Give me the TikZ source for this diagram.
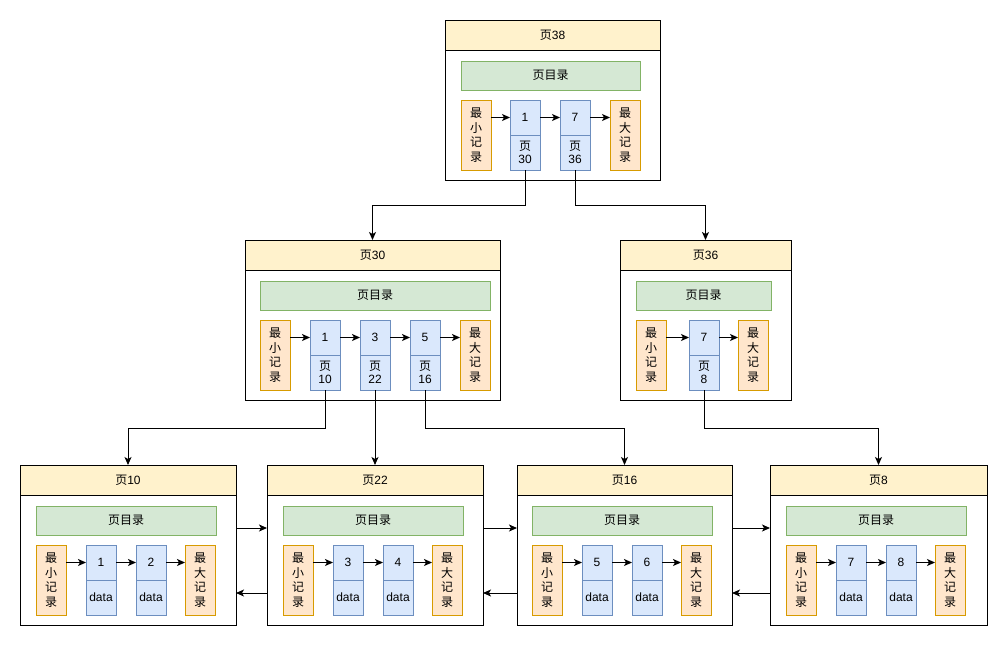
\documentclass[tikz,border=0pt]{standalone}
\usepackage{fontspec}
\setmainfont{Liberation Sans}
\newfontfamily\cjk{Noto Sans CJK SC}
\usetikzlibrary{arrows.meta,calc}
\definecolor{hdrfill}{HTML}{FFF2CC}
\definecolor{grnfill}{HTML}{D5E8D4}
\definecolor{grndraw}{HTML}{82B366}
\definecolor{orgfill}{HTML}{FFE6CC}
\definecolor{orgdraw}{HTML}{D79B00}
\definecolor{blufill}{HTML}{DAE8FC}
\definecolor{bludraw}{HTML}{6C8EBF}
\newcommand\Y{{\cjk 页}}
\newcommand\minrec[3]{\node[orgbox] (#1) at (#2,#3) {最\\小\\记\\录};}
\newcommand\maxrec[3]{\node[orgbox] (#1) at (#2,#3) {最\\大\\记\\录};}
\newcommand\recpair[5]{\node[blubox] (#1) at (#2,#3) {#4};
  \node[blubox] (#1b) at (#2,#3+35) {#5};}
\newcommand\idxtxt[1]{{\cjk 页}\\#1}
\begin{document}
\begin{tikzpicture}[x=1pt,y=-1pt,
  every node/.style={font=\fontsize{12}{14.5}\selectfont, inner sep=0pt, outer sep=0pt},
  hdr/.style={draw=black, line width=1pt, fill=hdrfill, anchor=north west, minimum height=30pt},
  bodybox/.style={draw=black, line width=1pt, fill=white, anchor=north west, minimum height=130pt},
  grnbox/.style={draw=grndraw, line width=1pt, fill=grnfill, anchor=north west, minimum height=29pt},
  orgbox/.style={draw=orgdraw, line width=1pt, fill=orgfill, anchor=north west, minimum width=30pt, minimum height=70pt, align=center, font=\fontsize{12}{14.5}\selectfont\cjk},
  blubox/.style={draw=bludraw, line width=1pt, fill=blufill, anchor=north west, minimum width=30pt, minimum height=35pt, align=center, font=\fontsize{12}{13}\selectfont},
  arr/.style={draw=black, line width=1pt, -{Stealth[length=8pt,width=7pt,inset=2pt]}},
  conn/.style={draw=black, line width=1pt, -{Stealth[length=8pt,width=7pt,inset=2pt]}}
]
\useasboundingbox (0,0) rectangle (1007,646);

% ---------- Page 38 ----------
\node[hdr, minimum width=215pt] (p38h) at (445,20) {\Y 38};
\node[bodybox, minimum width=215pt] (p38) at (445,50) {};
\node[grnbox, minimum width=179pt] (g38) at (461,61) {\cjk 页目录};
\minrec{a0}{461}{100}
\recpair{a1}{510}{100}{1}{\idxtxt{30}}
\recpair{a7}{560}{100}{7}{\idxtxt{36}}
\maxrec{a9}{610}{100}
\draw[arr] (a0.east |- a1.west) -- (a1.west);
\draw[arr] (a1.east) -- (a7.west);
\draw[arr] (a7.east) -- (a9.west |- a7.east);

% ---------- Page 30 ----------
\node[hdr, minimum width=255pt] (p30h) at (245,240) {\Y 30};
\node[bodybox, minimum width=255pt] (p30) at (245,270) {};
\node[grnbox, minimum width=230pt] (g30) at (260,281) {\cjk 页目录};
\minrec{b0}{260}{320}
\recpair{b1}{310}{320}{1}{\idxtxt{10}}
\recpair{b3}{360}{320}{3}{\idxtxt{22}}
\recpair{b5}{410}{320}{5}{\idxtxt{16}}
\maxrec{b9}{460}{320}
\draw[arr] (b0.east |- b1.west) -- (b1.west);
\draw[arr] (b1.east) -- (b3.west);
\draw[arr] (b3.east) -- (b5.west);
\draw[arr] (b5.east) -- (b9.west |- b5.east);

% ---------- Page 36 ----------
\node[hdr, minimum width=171pt] (p36h) at (620,240) {\Y 36};
\node[bodybox, minimum width=171pt] (p36) at (620,270) {};
\node[grnbox, minimum width=135pt] (g36) at (636,281) {\cjk 页目录};
\minrec{c0}{636}{320}
\recpair{c7}{689}{320}{7}{\idxtxt{8}}
\maxrec{c9}{738}{320}
\draw[arr] (c0.east |- c7.west) -- (c7.west);
\draw[arr] (c7.east) -- (c9.west |- c7.east);

% ---------- Page 10 ----------
\node[hdr, minimum width=216pt] (p10h) at (20,465) {\Y 10};
\node[bodybox, minimum width=216pt] (p10) at (20,495) {};
\node[grnbox, minimum width=180pt] (g10) at (36,506) {\cjk 页目录};
\minrec{d0}{36}{545}
\recpair{d1}{86}{545}{1}{data}
\recpair{d2}{136}{545}{2}{data}
\maxrec{d9}{185}{545}
\draw[arr] (d0.east |- d1.west) -- (d1.west);
\draw[arr] (d1.east) -- (d2.west);
\draw[arr] (d2.east) -- (d9.west |- d2.east);

% ---------- Page 22 ----------
\node[hdr, minimum width=216pt] (p22h) at (267,465) {\Y 22};
\node[bodybox, minimum width=216pt] (p22) at (267,495) {};
\node[grnbox, minimum width=180pt] (g22) at (283,506) {\cjk 页目录};
\minrec{e0}{283}{545}
\recpair{e3}{333}{545}{3}{data}
\recpair{e4}{383}{545}{4}{data}
\maxrec{e9}{432}{545}
\draw[arr] (e0.east |- e3.west) -- (e3.west);
\draw[arr] (e3.east) -- (e4.west);
\draw[arr] (e4.east) -- (e9.west |- e4.east);

% ---------- Page 16 ----------
\node[hdr, minimum width=215pt] (p16h) at (517,465) {\Y 16};
\node[bodybox, minimum width=215pt] (p16) at (517,495) {};
\node[grnbox, minimum width=180pt] (g16) at (532,506) {\cjk 页目录};
\minrec{f0}{532}{545}
\recpair{f5}{582}{545}{5}{data}
\recpair{f6}{632}{545}{6}{data}
\maxrec{f9}{681}{545}
\draw[arr] (f0.east |- f5.west) -- (f5.west);
\draw[arr] (f5.east) -- (f6.west);
\draw[arr] (f6.east) -- (f9.west |- f6.east);

% ---------- Page 8 ----------
\node[hdr, minimum width=217pt] (p8h) at (770,465) {\Y 8};
\node[bodybox, minimum width=217pt] (p8) at (770,495) {};
\node[grnbox, minimum width=180pt] (g8) at (786,506) {\cjk 页目录};
\minrec{h0}{786}{545}
\recpair{h7}{836}{545}{7}{data}
\recpair{h8}{886}{545}{8}{data}
\maxrec{h9}{935}{545}
\draw[arr] (h0.east |- h7.west) -- (h7.west);
\draw[arr] (h7.east) -- (h8.west);
\draw[arr] (h8.east) -- (h9.west |- h8.east);

% ---------- tree connectors ----------
\draw[conn] (a1b.south) -- ++(0,35) -| (p30h.north);
\draw[conn] (a7b.south) -- ++(0,35) -| (p36h.north);
\draw[conn] (b1b.south) -- ++(0,38) -| (p10h.north);
\draw[conn] (b3b.south) -- (b3b.south |- p22h.north);
\draw[conn] (b5b.south) -- ++(0,38) -| (p16h.north);
\draw[conn] (c7b.south) -- ++(0,38) -| (p8h.north);

% ---------- leaf sibling links ----------
\draw[arr] ([yshift=32pt]p10.east) -- ([yshift=32pt]p22.west);
\draw[arr] ([yshift=32pt]p22.east) -- ([yshift=32pt]p16.west);
\draw[arr] ([yshift=32pt]p16.east) -- ([yshift=32pt]p8.west);
\draw[arr] ([yshift=-33pt]p22.west) -- ([yshift=-33pt]p10.east);
\draw[arr] ([yshift=-33pt]p16.west) -- ([yshift=-33pt]p22.east);
\draw[arr] ([yshift=-33pt]p8.west) -- ([yshift=-33pt]p16.east);
\end{tikzpicture}
\end{document}
